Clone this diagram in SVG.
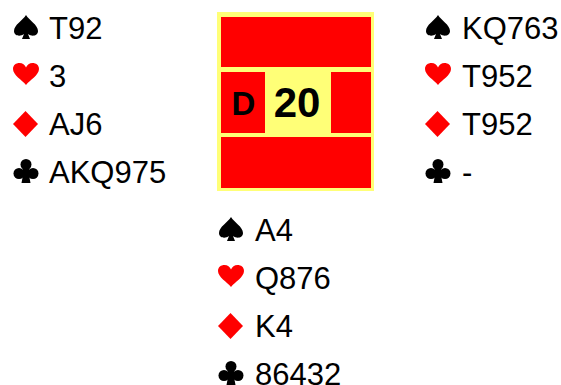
<svg xmlns="http://www.w3.org/2000/svg" width="561" height="385" viewBox="0 0 561 385">
<style>
.t{font-family:"Liberation Sans",Arial,sans-serif;font-size:31px;fill:#000}
.r{fill:#ff0000}
.b{font-family:"Liberation Sans",Arial,sans-serif;font-weight:bold;fill:#000;text-anchor:middle}
</style>
<defs>
<path id="sp" fill="#000" d="M13,-24 C10,-19 1,-14 1,-8 C1,-3 7,-2 11,-5 L9,0 L17,0 L15,-5 C19,-2 25,-3 25,-8 C25,-14 16,-19 13,-24 Z"/>
<path id="he" fill="#ff0000" d="M13,-2 C9,-7 0,-12 0,-18 C0,-22 3,-24 6.5,-24 C9.5,-24 12,-22 13,-19.5 C14,-22 16.5,-24 19.5,-24 C23,-24 26,-22 26,-18 C26,-12 17,-7 13,-2 Z"/>
<path id="di" fill="#ff0000" d="M12.5,-24 L25,-11 L12.5,2 L0,-11 Z"/>
<g id="cl" fill="#000">
<circle cx="13" cy="-18.5" r="5.5"/>
<circle cx="6" cy="-9.5" r="5.5"/>
<circle cx="20" cy="-9.5" r="5.5"/>
<path d="M10,-15 L16,-15 L16,-8 L17.5,0 L8.5,0 L10,-8 Z"/>
</g>
</defs>
<rect width="561" height="385" fill="#fff"/>
<g id="board">
<rect x="217" y="12" width="157" height="179" fill="#ffff77"/>
<rect class="r" x="221" y="17" width="150" height="50"/>
<rect class="r" x="221" y="72" width="44" height="61"/>
<rect class="r" x="331" y="72" width="40" height="61"/>
<rect class="r" x="221" y="137" width="150" height="51"/>
<text class="b" x="243.5" y="115" font-size="33">D</text>
<text class="b" x="297" y="117" font-size="42">20</text>
</g>
<g id="west">
<use href="#sp" x="13" y="39"/><text class="t" x="49" y="39">T92</text>
<use href="#he" x="13" y="87"/><text class="t" x="49" y="87">3</text>
<use href="#di" x="13" y="135"/><text class="t" x="49" y="135">AJ6</text>
<use href="#cl" x="13" y="183"/><text class="t" x="49" y="183">AKQ975</text>
</g>
<g id="east">
<use href="#sp" x="425" y="39"/><text class="t" x="462" y="39">KQ763</text>
<use href="#he" x="425" y="87"/><text class="t" x="462" y="87">T952</text>
<use href="#di" x="425" y="135"/><text class="t" x="462" y="135">T952</text>
<use href="#cl" x="425" y="183"/><text class="t" x="462" y="183">-</text>
</g>
<g id="south">
<use href="#sp" x="218" y="241"/><text class="t" x="255" y="241">A4</text>
<use href="#he" x="218" y="289"/><text class="t" x="255" y="289">Q876</text>
<use href="#di" x="218" y="337"/><text class="t" x="255" y="337">K4</text>
<use href="#cl" x="218" y="385"/><text class="t" x="255" y="385">86432</text>
</g>
<g id="connectors"></g>
</svg>
